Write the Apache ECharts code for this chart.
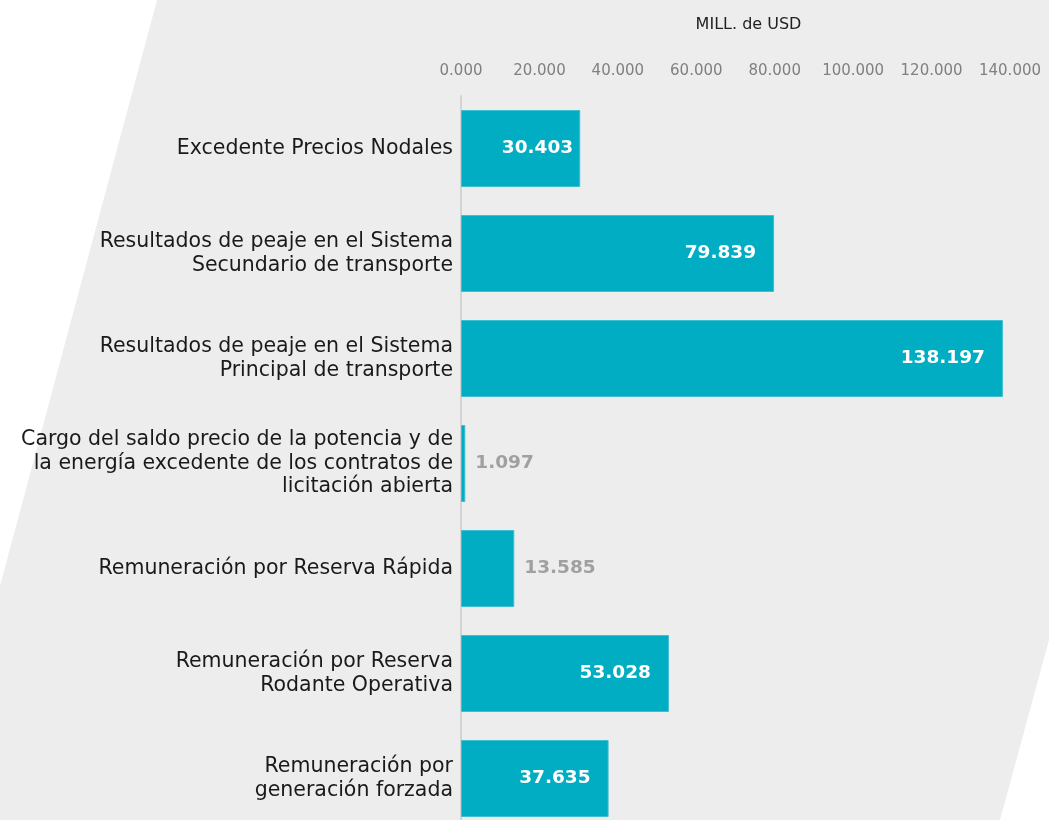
<!DOCTYPE html>
<html lang="es">
<head>
    <meta charset="UTF-8">
    <title>MILL. de USD</title>
    <style>
        html, body { margin: 0; padding: 0; background: #ffffff; overflow: hidden; }
    </style>
</head>
<body>
<div id="demo" style="width:1049px;height:820px"></div>
<script src="https://cdn.jsdelivr.net/npm/echarts@6/dist/echarts.min.js"></script>
<script type="text/javascript">

    var categories = [
        'Excedente Precios Nodales',
        'Resultados de peaje en el Sistema\nSecundario de transporte',
        'Resultados de peaje en el Sistema\nPrincipal de transporte',
        'Cargo del saldo precio de la potencia y de\nla energía excedente de los contratos de\nlicitación abierta',
        'Remuneración por Reserva Rápida',
        'Remuneración por Reserva\nRodante Operativa',
        'Remuneración por\ngeneración forzada'
    ];
    var values = [30.403, 79.839, 138.197, 1.097, 13.585, 53.028, 37.635];
    var tickValues = [0, 20, 40, 60, 80, 100, 120, 140];

    var font = 'DejaVu Sans';

    function fmt(v, dec) {
        // 138.197 -> "138.197", 20 -> "20.000"
        return v.toFixed(dec);
    }

    var barData = [];
    for (var i = 0; i < values.length; i++) {
        var small = values[i] < 20;
        barData.push({
            value: values[i],
            label: small ? {
                position: 'right',
                distance: 10,
                color: '#a0a0a0'
            } : {
                position: 'insideRight',
                distance: values[i] < 35 ? 7 : 18,
                color: '#ffffff'
            }
        });
    }

    var myChart = echarts.init(document.getElementById('demo'));
    var option = {
        animation: false,
        graphic: [{
            type: 'polygon',
            z: -10,
            shape: {
                points: [[157, 0], [1049, 0], [1049, 640], [1000, 820], [0, 820], [0, 586]]
            },
            style: { fill: '#ededed' }
        }],
        grid: {
            left: 461,
            right: 39,
            top: 96,
            bottom: -11,
            outerBoundsMode: 'none'
        },
        xAxis: {
            type: 'value',
            position: 'top',
            min: tickValues[0],
            max: tickValues[tickValues.length - 1],
            interval: 20,
            name: 'MILL. de USD',
            nameLocation: 'middle',
            nameGap: 63,
            nameTextStyle: {
                fontFamily: font,
                fontSize: 16,
                color: '#222222',
                padding: [0, 0, 0, 26]
            },
            axisLine: { show: false },
            axisTick: { show: false },
            splitLine: { show: false },
            axisLabel: {
                margin: 17,
                fontFamily: font,
                fontSize: 15,
                color: '#808080',
                formatter: function (v) { return fmt(v, 3); }
            }
        },
        yAxis: {
            type: 'category',
            inverse: true,
            data: categories,
            axisLine: { lineStyle: { color: '#d4d4d4', width: 2 } },
            axisTick: { show: false },
            axisLabel: {
                margin: 8,
                fontFamily: font,
                fontSize: 20.5,
                lineHeight: 23.5,
                color: '#1a1a1a',
                align: 'right'
            }
        },
        series: [{
            type: 'bar',
            data: barData,
            barCategoryGap: '26.7%',
            itemStyle: {
                color: '#00adc3',
                borderColor: '#3cbfd0',
                borderWidth: 1
            },
            label: {
                show: true,
                fontFamily: font,
                fontSize: 18.5,
                fontWeight: 'bold',
                formatter: function (p) { return fmt(p.value, 3); }
            }
        }]
    };
    myChart.setOption(option);
</script>
</body>
</html>
